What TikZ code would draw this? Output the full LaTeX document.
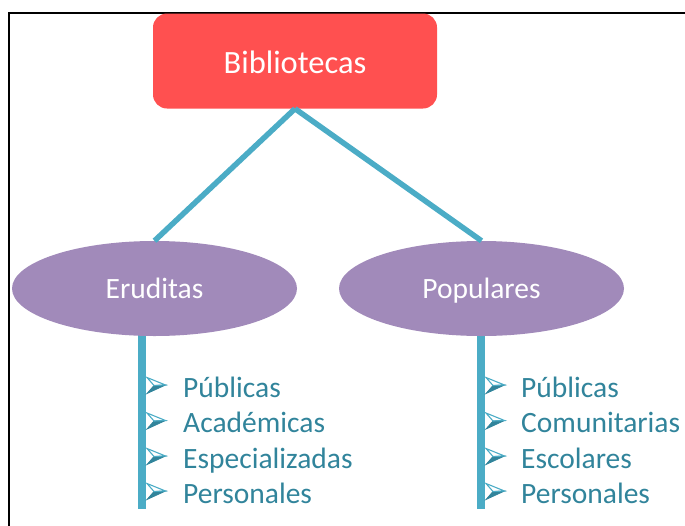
\documentclass[tikz,border=0pt]{standalone}
\usepackage{fontspec}
\setmainfont{Carlito}
\usetikzlibrary{shapes.geometric}
\definecolor{redfill}{HTML}{FF5050}
\definecolor{purplefill}{HTML}{A18ABA}
\definecolor{tealline}{HTML}{4BACC6}
\definecolor{tealtext}{HTML}{31849B}
\tikzset{
  redbox/.style={fill=redfill, rounded corners=14pt, minimum width=284pt, minimum height=95pt, text=white, font=\fontsize{32.5pt}{36pt}\selectfont, inner sep=0pt, text height=25pt, text depth=1pt},
  ellnode/.style={ellipse, fill=purplefill, minimum width=285pt, minimum height=95pt, text=white, font=\fontsize{29.5pt}{32pt}\selectfont, inner sep=0pt, text height=22pt, text depth=3pt},
  conn/.style={draw=tealline, line width=5.5pt},
  stem/.style={draw=tealline, line width=7.5pt},
  item/.style={anchor=base west, text=tealtext, font=\fontsize{29.5pt}{32pt}\selectfont, inner sep=0pt},
  bullet/.pic={
    \filldraw[tealtext, line width=0.8pt, line join=miter] (7,0.5) -- (18.5,0) -- (0,8.5) -- cycle;
    \draw[tealline, line width=1.1pt, line join=miter] (0,-7.5) -- (18.5,0) -- (7,0.5) -- cycle;
  }
}
\begin{document}
\begin{tikzpicture}[x=1pt,y=-1pt]
\useasboundingbox (0,0) rectangle (685,525);
\clip (0,0) rectangle (685,525);
\draw[line width=1.5pt] (9,540) -- (9,13) -- (700,13);
% stems behind ellipses
\coordinate (eruEnd) at (142,509);
\coordinate (popEnd) at (481,509);
\coordinate (eruTop) at (142,288);
\coordinate (popTop) at (481,288);
\draw[stem] (eruTop) -- (eruEnd);
\draw[stem] (popTop) -- (popEnd);
\node[redbox] (bib) at (295,61) {Bibliotecas};
\node[ellnode] (eru) at (154.5,288.5) {Eruditas};
\node[ellnode] (pop) at (481.5,288.5) {Populares};
\draw[conn] (bib.south) -- (pop.north);
\draw[conn] (bib.south) -- (eru.north);
% lists
\foreach \name/\txt/\yy in {l1/Públicas/397, l2/Académicas/432.5, l3/Especializadas/468, l4/Personales/503}{
  \pic at (147,\yy-12) {bullet};
  \node[item] (\name) at (183,\yy) {\txt};
}
\foreach \name/\txt/\yy in {r1/Públicas/397, r2/Comunitarias/432.5, r3/Escolares/468, r4/Personales/503}{
  \pic at (486,\yy-12) {bullet};
  \node[item] (\name) at (521,\yy) {\txt};
}
\end{tikzpicture}
\end{document}
